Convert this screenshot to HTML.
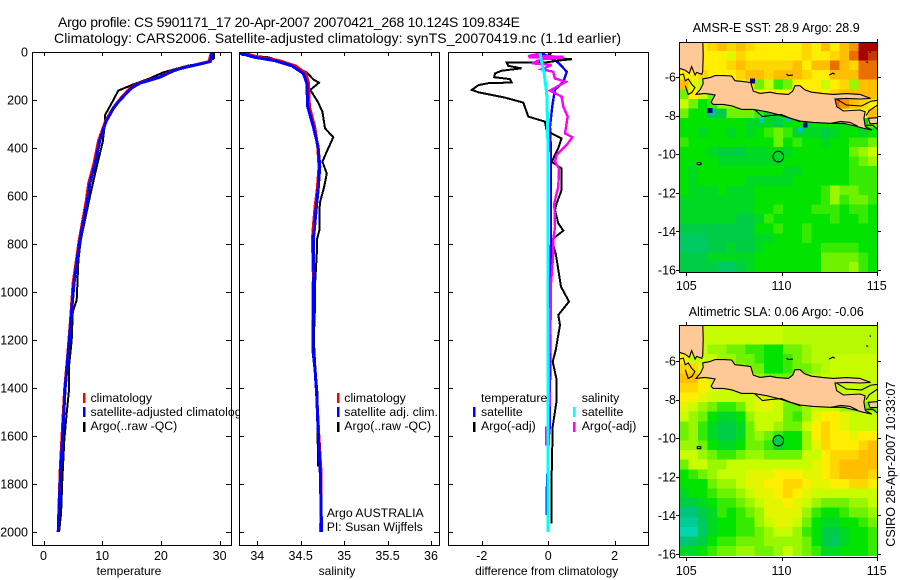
<!DOCTYPE html>
<html>
<head>
<meta charset="utf-8">
<title>Argo profile CS 5901171_17</title>
<style>
html,body{margin:0;padding:0;background:#fff;}
svg{display:block;font-family:"Liberation Sans",Arial,sans-serif;fill:#000;}
.tick{font-size:12.5px;}
.axl{font-size:12px;}
.leg{font-size:12.3px;}
.ttl{font-size:14px;}
.mttl{font-size:12.5px;}
</style>
</head>
<body>
<svg id="chart" xmlns="http://www.w3.org/2000/svg" width="900" height="580" viewBox="0 0 900 580">
  <defs>
    <clipPath id="clip-t"><rect x="32" y="52" width="199" height="493"/></clipPath>
    <clipPath id="clip-s"><rect x="239" y="52" width="200" height="493"/></clipPath>
    <clipPath id="clip-d"><rect x="448" y="52" width="200" height="493"/></clipPath>
    <clipPath id="clip-m1"><rect x="679" y="42" width="198" height="230"/></clipPath>
    <clipPath id="clip-m2"><rect x="679" y="325" width="198" height="232"/></clipPath>
  </defs>
  <rect x="0" y="0" width="900" height="580" fill="#fff"/>
  <text class="ttl" x="58" y="27" textLength="462" lengthAdjust="spacing">Argo profile: CS 5901171_17 20-Apr-2007 20070421_268 10.124S 109.834E</text>
  <text class="ttl" x="54" y="43" textLength="567" lengthAdjust="spacing">Climatology: CARS2006. Satellite-adjusted climatology: synTS_20070419.nc (1.1d earlier)</text>

  <g id="panel-t"></g>
  <g>
    <rect x="83" y="393" width="2.5" height="10" fill="#f00"/>
    <rect x="83" y="407" width="2.5" height="10" fill="#00f"/>
    <rect x="83" y="422" width="2.5" height="10" fill="#000"/>
    <text class="leg" x="90.5" y="402">climatology</text>
    <text class="leg" x="90.5" y="416">satellite-adjusted climatology</text>
    <text class="leg" x="90.5" y="430">Argo(..raw -QC)</text>
  </g>
  <text class="axl" x="129" y="575" text-anchor="middle">temperature</text>

  <rect x="239" y="46" width="205" height="505" fill="#fff"/>
  <g id="panel-s"></g>
  <g>
    <rect x="337" y="393" width="2.5" height="10" fill="#f00"/>
    <rect x="337" y="407" width="2.5" height="10" fill="#00f"/>
    <rect x="337" y="422" width="2.5" height="10" fill="#000"/>
    <text class="leg" x="344.3" y="402">climatology</text>
    <text class="leg" x="344.3" y="416">satellite adj. clim.</text>
    <text class="leg" x="344.3" y="430">Argo(..raw -QC)</text>
    <text class="leg" x="326.7" y="517">Argo AUSTRALIA</text>
    <text class="leg" x="326.7" y="531">PI: Susan Wijffels</text>
  </g>
  <text class="axl" x="337" y="575" text-anchor="middle">salinity</text>

  <g id="panel-d"></g>
  <g>
    <text class="leg" x="481" y="402">temperature</text>
    <rect x="473" y="407" width="2.5" height="10" fill="#00f"/>
    <text class="leg" x="481" y="416">satellite</text>
    <rect x="473" y="422" width="2.5" height="10" fill="#000"/>
    <text class="leg" x="481" y="430">Argo(-adj)</text>
    <text class="leg" x="581.7" y="402">salinity</text>
    <rect x="573" y="407" width="2.5" height="10" fill="#0ff"/>
    <text class="leg" x="581.7" y="416">satellite</text>
    <rect x="573" y="422" width="2.5" height="10" fill="#f0f"/>
    <text class="leg" x="581.7" y="430">Argo(-adj)</text>
  </g>
  <text class="axl" x="546.7" y="575" text-anchor="middle">difference from climatology</text>

  <text class="mttl" x="692.7" y="32" textLength="167" lengthAdjust="spacing">AMSR-E SST: 28.9 Argo: 28.9</text>
  <g id="map-1"></g>
  <text class="mttl" x="688.7" y="316" textLength="175" lengthAdjust="spacing">Altimetric SLA: 0.06 Argo: -0.06</text>
  <g id="map-2"></g>
  <text class="mttl" transform="translate(895,546.7) rotate(-90)" textLength="165" lengthAdjust="spacing">CSIRO 28-Apr-2007 10:33:07</text>
</svg>
<script>
// ---- depth axis ticks
var depthTicks = [0,200,400,600,800,1000,1200,1400,1600,1800,2000];
var tempTicks = [0,10,20,30];
var salTicks = [34,34.5,35,35.5,36];
var salTickLabels = ['34','34.5','35','35.5','36'];
var diffTicks = [-2,0,2];
var lonTicks = [105,110,115];
var latTicks = [-6,-8,-10,-12,-14,-16];

// ---- temperature profiles
var tempSatDepth = [0,40,68,80,105,130,150,186,210,235,290,367,464,547,617,783,964,1103,1255,1408,1603,1742,1879,2000];
var tempSatValues = [28.8,28.4,23.5,22,19.85,16.4,15,13.6,12.7,11.9,10.65,9.6,8.8,7.9,7.5,6.2,5.2,4.7,4.2,3.66,3.27,2.93,2.7,2.5];
var tempClimValues = [28.6,28.2,23.3,21.8,19.7,16.2,14.8,13.4,12.6,11.8,10.55,9.4,8.6,7.7,7.3,6.1,5.05,4.65,4.15,3.6,3.15,2.85,2.65,2.5];
var tempArgoDepth = [0,26,43,58,85,110,135,161,200,262,290,373,505,603,783,867,1033,1082,1200,1311,1408,1505,1617,1783,1921,2000];
var tempArgoValues = [29,29.05,27.8,24.4,20.4,18.1,15.3,12.75,11.9,10.5,10.5,10.1,8.8,7.9,6.35,5.95,5.65,5,4.8,4.35,4.35,3.95,3.55,3.2,3,2.65];

// ---- salinity profiles
var salSatDepth = [5,22,36,58,89,130,228,311,394,478,575,644,728,783,922,1242,1325,1436,1575,1756,2000];
var salSatValues = [33.8,33.97,34.2,34.4,34.53,34.57,34.58,34.645,34.7,34.72,34.7,34.68,34.66,34.645,34.65,34.64,34.665,34.685,34.7,34.725,34.74];
var salClimValues = [33.85,34.02,34.25,34.44,34.56,34.59,34.6,34.66,34.695,34.71,34.69,34.665,34.645,34.635,34.645,34.64,34.665,34.685,34.705,34.735,34.73];
var salArgoDepth = [12,22,54,85,114,128,158,207,248,318,355,415,457,506,561,630,742,783,839,964,1047,1200,1325,1436,1617,1728];
var salArgoValues = [33.82,34.13,34.4,34.57,34.645,34.71,34.61,34.695,34.75,34.78,34.875,34.8,34.75,34.8,34.77,34.72,34.715,34.685,34.685,34.665,34.665,34.65,34.67,34.695,34.695,34.7];

// ---- differences from climatology
var diffTempSatDepth = [5,20,44,82,124,158,228,311,422,617,783,1200,1554,1600,1860,1930];
var diffTempSatValues = [-0.2,0.02,0.3,0.56,0.455,0.2,0.12,0.055,0.085,0.085,0.085,0.06,0.05,0.02,-0.05,-0.05];
var diffSalSatDepth = [5,89,172,311,783,2000];
var diffSalSatValues = [-0.25,-0.125,-0.045,-0.015,0,0];
var diffTempArgoDepth = [5,22,30,36,44,44,58,68,78,89,105,113,127,130,138,158,168,190,211,269,290,325,339,360,401,457,485,575,630,658,714,744,783,839,978,1040,1096,1138,1242,1290,1367,1450,1561,1756,1964];
var diffTempArgoValues = [0.1,-0.1,0.71,0.3,-0.1,-1.25,-1.2,-0.8,-1.4,-1.6,-1.63,-1.15,-1.1,-1.8,-2.1,-2.3,-2.1,-1.3,-0.75,-0.6,-0.1,-0.05,0.105,0.405,0.305,0.105,0.405,0.405,0.256,0.205,0.305,0.455,0.105,0.225,0.385,0.627,0.305,0.355,0.225,0.135,0.256,0.256,0.135,0.105,0.105];
var diffSalArgoDepth = [5,17,19,22,24,30,47,54,72,82,110,124,161,186,228,269,339,355,387,428,457,485,561,630,728,783,839,964,1061,1186,1339,1478];
var diffSalArgoValues = [-0.2,-0.6,0.455,-0.6,0.455,-0.2,-0.48,0.1,-0.2,0.15,0.2,0.526,0.055,0.405,0.455,0.586,0.505,0.726,0.557,0.256,0.205,0.325,0.305,0.185,0.205,0.155,0.155,0.085,0.085,0.055,0.024,0.055];
var diffSalArgoLowDepth = [1560,1640];
var diffSalArgoLowValues = [-0.07,-0.07];

// ---- map grids: colour-scale level per 0.5 degree cell (rows north to south)
var sstRows = [
[7,7,7,7.5,8,7.5,8,7.5,7,7,7,7,7,7.5,7,8,7,8,8.5,10,10],
[7,7,7,7,7,6.5,7.5,7,7,7,7,7,7,7.5,7,7,7.5,8,9,10,9.5],
[7,7,7,7,7,7.5,8,7.5,7.5,7.5,7.5,7.5,8,7,8,8,9,8,7.5,9,9],
[7,7,7.5,7,7,7,7.5,8,8,7.5,8,8,8,7.5,7,7,8,8,8,9,9],
[8,6.5,6,6,7,7,7,7.5,5,6,4.5,5,7,7,7,6,7,7.5,5.5,8,8],
[5,7,6,5,5,6,7,7,7,7,7,7,7,7,7,7,7.5,8,8,8,8],
[6,5,4,4.5,5.5,5.5,5,5,6,6,7,7,7,7,7,7,9,8.5,8,7.5,7],
[5,4,4,2.5,3,5,5,5,4.5,3.5,3.5,4,4,7,7,7,7,7,7,7,8],
[4,4,4,4,4,4,4,3.5,3.5,3.5,3,4,4,3.5,4,4,4,3.5,4,4,5],
[4,4,3.5,4,4,3.5,4,3.5,4,4.5,5,4.5,3.5,3.5,3.5,3,3.5,4,4,3.5,4],
[4.5,4,4,4,4,4,4,4,4,4,5,4,4.5,4,4,3.5,4,4,4.5,4.5,5],
[4,4,4,3.5,3,3,3,3.5,3.5,3.5,3.5,3.5,4,4,4,4,4,4,5,5.5,6],
[4,4,4,4,3.5,3.5,3.5,3.5,3.5,3.5,3.5,4,4,4,4,4,4,4,4.5,5,5.5],
[4,3.5,4,4,4,4,4,4,4,4,4,3.5,3.5,4,4,4,4,4,4.5,4.5,4.5],
[4,3.5,4,4,4,4,4,3.5,3.5,3.5,3.5,3.5,4,4,4,4,4,4,4.5,4.5,4.5],
[4,3.5,3.5,3.5,4,3.5,3.5,3.5,4,4,4,4,4,4,4,4.5,5.5,5,5,4.5,4.5],
[3.5,3.5,3.5,3.5,3.5,3.5,3.5,3.5,4,4,4,4,4,4,4,4.5,5.5,4.5,5,5,4.5],
[3.5,3.5,3.5,3.5,3.5,3.5,3.5,3.5,4,4,4.5,4,4,4,4.5,4.5,4.5,4,4.5,4.5,4],
[3.5,3.5,3.5,3.5,3.5,3.5,3,3,3.5,4.5,4,4,4,4,4,4,4.5,4,4,4.5,4],
[3,3,3,3,3,3,3,3,4,4,4.5,4,4,4.5,4,4,4,4,4,4,4],
[2.5,2.5,2.5,3,3,3,3,3,3.5,3.5,4,4,4,4.5,4,4,4,4,4,4,4],
[2.5,2.5,2.5,3,3,3.5,3,3,3.5,4,4,4,4,4,4,4.5,4.5,4.5,4.5,4,4],
[3,3,3,3.5,3.5,3.5,3.5,3.5,4,4,4,4,4,4,4,5,5,5,5,4.5,4],
[3,3,3,3,2.5,2.5,3,3.5,4,4,4,4,4,4,4,5,5,5,5.5,4.5,4]
];
var slaRows = [
[6,6,6,6,6,6,6,6,6,6,6,5.8,5.8,5.8,5.8,5.8,5.8,5.8,5.8,5.8,5.8],
[6,6,6,6,6,6,6,6,6,6,6,5.8,5.8,5.8,5.8,5.8,5.8,5.8,5.8,5.8,5.8],
[6,6,6,5.5,5.5,5,5,4.5,4.5,4,4,5,5,5.5,5.8,5.8,5.8,5.8,5.8,5.8,5.8],
[7,6,6,6,5.5,5.5,5,5,4.5,4,4,4.5,5,5.5,5.8,5.8,6,6,6,6,6],
[7.5,7.5,6.5,6,6,5.5,5.5,5,5,4,4,4.5,5,5,5.5,5.8,6,6,6,6,6],
[8,8,7,6.5,6,6,6,6,5.5,5,5,5,5.5,5.5,5.8,6,6,6,6,6,6],
[7.5,7.5,7,6.5,6,6,6,6,6,6,6,6,6,6,6,6,6,6,6,6,6],
[7,7,6.5,6,6,6,6,6,6.5,6.5,6,6,6,5.5,6,6,6,6,6,6,6],
[6.5,6,5.5,5,4.5,4.5,5,6,6.5,6.5,6,5,5,5.5,6,6,6,5.5,5.5,5,5],
[6,5.5,5,4,3.5,3.5,4,5.5,6,6,6,5,4.5,5.5,6.5,7,7,6.5,6,6,6],
[5,5.5,4.5,3.5,3,3,3.5,5,6,6,5.5,5,5,6,7,7.5,7,6.5,6,6,6],
[5,5.5,4.5,3.5,3,3,3.5,5,5.5,5,4.5,4,4,5.5,7,7.5,7,7,6.5,7,7],
[5.5,5.5,5,4,3.5,3.5,4,5,5,4.5,3.5,4,4,5.5,6.5,7.5,7,7,7,7.5,8],
[6,6,5.5,5,4.5,4.5,5,5.5,5.5,5,5,5,5,6,6,7,7.5,7.5,7.5,8,8],
[5,6,6,5.5,5.5,6,6,6,6,6,6,6,6,6,6.5,7,7.5,8,8,8,8],
[4,4.5,5,5.5,6,6,6,6.5,6.5,6.5,7,7,7,6.5,6.5,7,7.5,8,8,8,7.5],
[4,4,4,5,5.5,5.5,6,6.5,6.5,7,7,7.5,7.5,7,6.5,6.5,7,7,7.5,7.5,7],
[3.5,4,4,4.5,5,5,5.5,6,6.5,6.5,7,7.5,7,6.5,6,6,6,6,6,6,6],
[3,3,3.5,4,4.5,4.5,5,5.5,6,6.5,6.5,7,6.5,6,5.5,5,5,5,5.5,5.5,6],
[2,2,3,3.5,4.5,4,4.5,5,5.5,6.5,6.5,6.5,6.5,5.5,4.5,4,4,4.5,5,5,5.5],
[1.5,1.5,2.5,3.5,4,4,4.5,4.5,5.5,6,6.5,6.5,6,5,4,3.5,3.5,4,4,4.5,5],
[1,1,2.5,3.5,4,4,4.5,4.5,5,5.5,6,6,5.5,4.5,4,3,3,3.5,4,4,4.5],
[2,2.5,3,4,4.5,4.5,5,5,5,5.5,5.5,5.5,5.5,5,4,3,2.5,3.5,4,4,4.5],
[3.5,3.5,4,4.5,5,5,5.5,5.5,5,5,5.5,6,5.5,5,4.5,3.5,3.5,4,4,4,4.5]
];
// isolated 0.25 degree SST pixels
var sstSpotLons = [108.48,106.25,111.25,108.96,110.97,110.3,106.25];
var sstSpotLats = [-6.2,-7.73,-8.49,-8.26,-8.75,-8.2,-8.0];
var sstSpotVals = [-1,-1,-1,0.5,0,0,2];
var markerLon = 109.834;
var markerLat = -10.124;
var slaMarkerLevel = 3;
var sstMarkerLevel = 3.5;

// ---- coastlines (lon, lat)
var javaLons = [105.86,106.24,106.51,106.94,107.38,107.56,108,108.38,108.52,108.87,109.4,109.75,110.36,110.59,110.71,110.97,111.23,111.58,112.2,112.72,113.42,114.12,114.68,114.12,113.42,112.81,112.9,113.25,114.12,114.39,114.33,114.4,114.75,114.3,113.86,113.25,112.55,111.67,110.97,110.36,109.75,109.22,108.52,107.91,107.38,106.94,106.42,106.3,106.51,105.98,105.51,105.75,105.89];
var javaLats = [-6.1,-6.03,-5.93,-5.93,-5.95,-6.19,-6.24,-6.29,-6.73,-6.85,-6.79,-6.86,-6.9,-6.73,-6.45,-6.45,-6.67,-6.79,-6.86,-6.9,-6.86,-6.9,-7.11,-7.14,-7.11,-7.14,-7.54,-7.76,-7.71,-7.8,-8.14,-8.57,-8.75,-8.66,-8.54,-8.4,-8.4,-8.35,-8.28,-8.11,-7.92,-7.8,-7.68,-7.68,-7.49,-7.42,-7.42,-7.31,-6.93,-6.85,-6.9,-6.62,-6.33];
var sumatraLons = [104.5,105.86,105.89,105.86,105.81,105.54,105.46,105.28,105.16,104.93,104.63,104.5];
var sumatraLats = [-4,-4,-4.86,-5.72,-5.86,-5.76,-5.9,-5.46,-5.81,-5.64,-5.55,-5.5];
var baliLons = [114.56,115.2,115.2,114.65];
var baliLats = [-8.14,-8.1,-8.4,-8.42];
var christmasLons = [105.58,105.76,105.76,105.58];
var christmasLats = [-10.44,-10.44,-10.54,-10.54];
var outlineTraces = [
  {lons:[104.63,104.85,104.95,105.1,105.3,105.45,105.3,105.1,104.95],lats:[-5.9,-5.85,-6.2,-6.1,-6.4,-6.55,-6.8,-6.9,-6.45]},
  {lons:[108.6,109,109.4,110,110.5,111],lats:[-7.7,-8.05,-8,-7.95,-8.15,-8.32]},
  {lons:[112.9,113.4,114.2,114.7,115.1],lats:[-7.15,-7.45,-7.5,-7.25,-7.2]},
  {lons:[112.6,113.1,113.6,114],lats:[-8.4,-8.3,-8.35,-8.55]},
  {lons:[114.45,114.6,115.05],lats:[-8,-7.75,-7.45]},
  {lons:[114.45,114.8,115.1],lats:[-8.5,-8.5,-8.75]},
  {lons:[110.25,110.35,110.6],lats:[-5.85,-5.92,-5.9]},
  {lons:[112.5,112.7,112.8],lats:[-5.9,-5.8,-5.85]},
  {lons:[114.45,114.55],lats:[-5.2,-5.25]},
  {lons:[114.62,114.7],lats:[-4.7,-4.72]}
];

var paletteStops = [[-1,0,0,140],[0,0,190,230],[1,0,215,175],[2,0,195,125],[3,0,205,70],[4,0,228,0],[5,110,242,0],[6,200,252,0],[7,255,238,0],[8,255,190,0],[9,235,110,0],[10,170,0,0]];

var SVGNS = 'http://www.w3.org/2000/svg';
function mk(parent, tag, attrs, name, text) {
  var e = document.createElementNS(SVGNS, tag);
  for (var k in attrs) { e.setAttribute(k, attrs[k]); }
  
  
  if (text !== undefined) { e.textContent = text; }
  parent.appendChild(e);
  return e;
}
function depthY(d) { return 52 + d * 0.24; }
function tempX(v) { return 43.5 + v * 5.87; }
function salX(v) { return 257.3 + (v - 34) * 86.85; }
function diffX(v) { return 548.2 + v * 33.2; }
function lonX(lon) { return 686.3 + (lon - 105) * 19.04; }
function latY1(lat) { return 77 + (-lat - 6) * 19.3; }
function latY2(lat) { return 361 + (-lat - 6) * 19.3; }
function levelColor(v) {
  var s = paletteStops;
  if (v <= s[0][0]) { return 'rgb(' + s[0][1] + ',' + s[0][2] + ',' + s[0][3] + ')'; }
  for (var i = 1; i < s.length; i++) {
    if (v <= s[i][0]) {
      var f = (v - s[i-1][0]) / (s[i][0] - s[i-1][0]);
      return 'rgb(' + [1,2,3].map(function (j) { return Math.round(s[i-1][j] + f * (s[i][j] - s[i-1][j])); }).join(',') + ')';
    }
  }
  return 'rgb(170,0,0)';
}
function curve(parent, xf, depths, vals, color, width, name, clip) {
  var pts = depths.map(function (d, i) { return xf(vals[i]).toFixed(1) + ',' + depthY(d).toFixed(1); }).join(' ');
  mk(parent, 'polyline', {points: pts, fill: 'none', stroke: color, 'stroke-width': width, 'stroke-linejoin': 'miter', 'shape-rendering': 'crispEdges', 'clip-path': 'url(#' + clip + ')'}, name);
}
function profileFrame(parent, x0, x1, xf, ticks, labels, showDepth) {
  mk(parent, 'rect', {x: x0, y: 52, width: x1 - x0, height: 493, fill: '#fff', stroke: 'none'}, 'plot-area');
  ticks.forEach(function (t, i) {
    var x = Math.round(xf(t)) + 0.5;
    mk(parent, 'line', {x1: x, x2: x, y1: 52, y2: 56, stroke: '#000'}, 'x-tick-top');
    mk(parent, 'line', {x1: x, x2: x, y1: 541, y2: 545, stroke: '#000'}, 'x-tick-bottom');
    mk(parent, 'text', {x: xf(t), y: 560, 'text-anchor': 'middle', 'class': 'tick'}, 'x-tick-label', labels[i]);
  });
  depthTicks.forEach(function (d) {
    var y = Math.round(depthY(d)) + 0.5;
    if (d > 0) {
      mk(parent, 'line', {x1: x0, x2: x0 + 5, y1: y, y2: y, stroke: '#000'}, 'y-tick-left');
      mk(parent, 'line', {x1: x1 - 5, x2: x1, y1: y, y2: y, stroke: '#000'}, 'y-tick-right');
    }
    if (showDepth) {
      mk(parent, 'text', {x: 28, y: depthY(d) + 4.5, 'text-anchor': 'end', 'class': 'tick'}, 'depth-tick-label', String(d));
    }
  });
}
function profileBox(parent, x0, x1) {
  mk(parent, 'rect', {x: x0 + 0.5, y: 52.5, width: x1 - x0, height: 493, fill: 'none', stroke: '#000', 'stroke-width': 1}, 'plot-frame');
}

// temperature panel
var pt = document.getElementById('panel-t');
profileFrame(pt, 32, 231, tempX, tempTicks, tempTicks.map(String), true);
curve(pt, tempX, tempArgoDepth, tempArgoValues, '#000', 2, 'temperature-argo-line', 'clip-t');
curve(pt, tempX, tempSatDepth, tempClimValues, '#f00', 3, 'temperature-climatology-line', 'clip-t');
curve(pt, tempX, tempSatDepth, tempSatValues, '#00f', 3, 'temperature-satellite-line', 'clip-t');
profileBox(pt, 32, 231);

// salinity panel
var ps = document.getElementById('panel-s');
profileFrame(ps, 239, 439, salX, salTicks, salTickLabels, false);
curve(ps, salX, salArgoDepth, salArgoValues, '#000', 2, 'salinity-argo-line', 'clip-s');
curve(ps, salX, salSatDepth, salClimValues, '#f00', 3, 'salinity-climatology-line', 'clip-s');
curve(ps, salX, salSatDepth, salSatValues, '#00f', 3, 'salinity-satellite-line', 'clip-s');
profileBox(ps, 239, 439);

// difference panel
var pd = document.getElementById('panel-d');
profileFrame(pd, 448, 648, diffX, diffTicks, diffTicks.map(String), false);
curve(pd, diffX, diffTempSatDepth, diffTempSatValues, '#00f', 2.4, 'difference-temperature-satellite-line', 'clip-d');
curve(pd, diffX, diffTempArgoDepth, diffTempArgoValues, '#000', 2, 'difference-temperature-argo-line', 'clip-d');
curve(pd, diffX, diffSalArgoDepth, diffSalArgoValues, '#f0f', 2.4, 'difference-salinity-argo-line', 'clip-d');
curve(pd, diffX, diffSalArgoLowDepth, diffSalArgoLowValues, '#f0f', 1.5, 'difference-salinity-argo-deep-line', 'clip-d');
curve(pd, diffX, diffSalSatDepth, diffSalSatValues, '#0ff', 3, 'difference-salinity-satellite-line', 'clip-d');
profileBox(pd, 448, 648);

// maps
var lon0 = 104.63, dLon = 0.4955, lat0 = -4.15, dLat = 0.4975;
function polyPts(lons, lats, yf) {
  return lons.map(function (lo, i) { return lonX(lo).toFixed(1) + ',' + yf(lats[i]).toFixed(1); }).join(' ');
}
function drawMap(group, rows, yf, clip, top, bottom, markerLevel, prefix) {
  var g = mk(group, 'g', {'clip-path': 'url(#' + clip + ')'}, prefix + '-map-content');
  rows.forEach(function (row, r) {
    row.forEach(function (v, c) {
      var x = lonX(lon0 + c * dLon), x2 = lonX(lon0 + (c + 1) * dLon);
      var y = yf(lat0 - r * dLat), y2 = yf(lat0 - (r + 1) * dLat);
      mk(g, 'rect', {x: x.toFixed(1), y: y.toFixed(1), width: (x2 - x + 0.3).toFixed(1), height: (y2 - y + 0.3).toFixed(1), fill: levelColor(v), 'shape-rendering': 'crispEdges'}, prefix + '-cell');
    });
  });
  if (prefix === 'sst') {
    sstSpotLons.forEach(function (lo, i) {
      mk(g, 'rect', {x: (lonX(lo) - 2.4).toFixed(1), y: (yf(sstSpotLats[i]) - 2.4).toFixed(1), width: 4.8, height: 4.8, fill: levelColor(sstSpotVals[i]), 'shape-rendering': 'crispEdges'}, 'sst-isolated-pixel');
    });
  }
  [[sumatraLons, sumatraLats, 'sumatra-land'], [javaLons, javaLats, 'java-land'], [baliLons, baliLats, 'bali-land'], [christmasLons, christmasLats, 'christmas-island']].forEach(function (p) {
    mk(g, 'polygon', {points: polyPts(p[0], p[1], yf), fill: '#ffc896', stroke: '#000', 'stroke-width': 1.1}, p[2]);
  });
  outlineTraces.forEach(function (t) {
    mk(g, 'polyline', {points: polyPts(t.lons, t.lats, yf), fill: 'none', stroke: '#000', 'stroke-width': 1.1}, 'coast-outline');
  });
  mk(g, 'circle', {cx: lonX(markerLon).toFixed(1), cy: yf(markerLat).toFixed(1), r: 5.3, fill: levelColor(markerLevel), stroke: '#000', 'stroke-width': 1}, prefix + '-argo-location-marker');
  mk(group, 'rect', {x: 679.5, y: top + 0.5, width: 198, height: bottom - top, fill: 'none', stroke: '#000', 'stroke-width': 1}, prefix + '-map-frame');
  lonTicks.forEach(function (lo) {
    var x = Math.round(lonX(lo)) + 0.5;
    mk(group, 'line', {x1: x, x2: x, y1: top - 3, y2: top, stroke: '#000'}, prefix + '-lon-tick-top');
    mk(group, 'line', {x1: x, x2: x, y1: bottom + 1, y2: bottom + 4, stroke: '#000'}, prefix + '-lon-tick-bottom');
    mk(group, 'text', {x: lonX(lo), y: bottom + 18, 'text-anchor': 'middle', 'class': 'tick'}, prefix + '-lon-label', String(lo));
  });
  latTicks.forEach(function (la) {
    var y = Math.round(yf(la)) + 0.5;
    mk(group, 'line', {x1: 676, x2: 679, y1: y, y2: y, stroke: '#000'}, prefix + '-lat-tick-left');
    mk(group, 'line', {x1: 878, x2: 881, y1: y, y2: y, stroke: '#000'}, prefix + '-lat-tick-right');
    mk(group, 'text', {x: 676, y: yf(la) + 4.5, 'text-anchor': 'end', 'class': 'tick'}, prefix + '-lat-label', String(la));
  });
}
drawMap(document.getElementById('map-1'), sstRows, latY1, 'clip-m1', 42, 272, sstMarkerLevel, 'sst');
drawMap(document.getElementById('map-2'), slaRows, latY2, 'clip-m2', 325, 557, slaMarkerLevel, 'sla');
</script>
</body>
</html>
